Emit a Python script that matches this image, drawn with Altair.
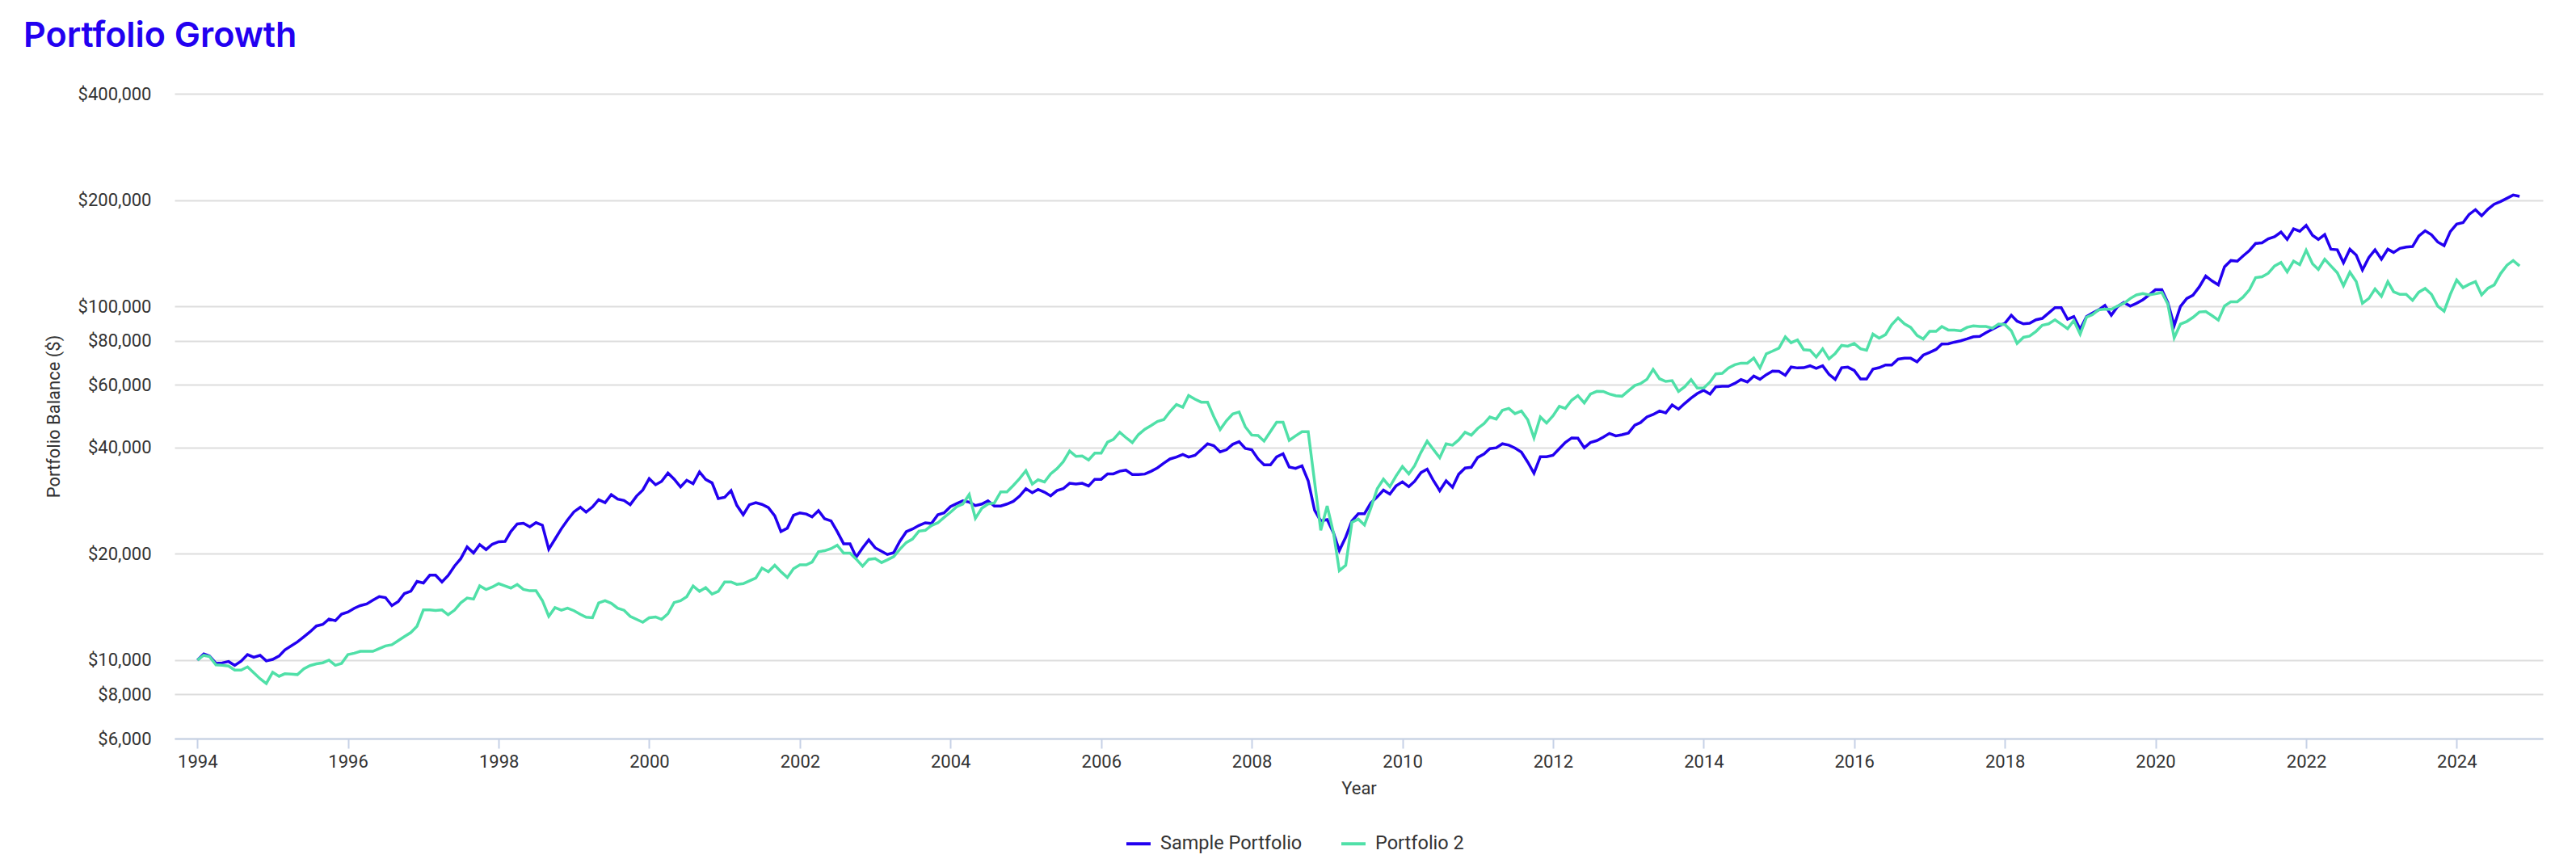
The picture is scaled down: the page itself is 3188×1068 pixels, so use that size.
import altair as alt
import pandas as pd

START_MONTH = "1994-01-01"
SERIES_NAMES = ["Sample Portfolio", "Portfolio 2"]
SERIES_COLORS = ["#2200f0", "#50e0a8"]

SAMPLE = [
    10000, 10410, 10270, 9790, 9820, 9910, 9660, 9930, 10370, 10190, 10320, 9950,
    10050, 10270, 10690, 10970, 11260, 11640, 12020, 12490, 12620, 13070, 12930, 13490,
    13680, 14020, 14260, 14420, 14770, 15130, 15030, 14260, 14650, 15430, 15670, 16700,
    16530, 17390, 17390, 16640, 17360, 18460, 19360, 20900, 20100, 21220, 20540, 21270,
    21620, 21660, 23100, 24270, 24400, 23830, 24480, 24080, 20600, 21980, 23530, 24920,
    26270, 27070, 26220, 27120, 28440, 27880, 29380, 28540, 28290, 27510, 29120, 30280,
    32620, 31330, 32030, 33820, 32500, 30890, 32270, 31550, 34070, 32440, 31720, 28640,
    28890, 30170, 27410, 25780, 27510, 27880, 27570, 27020, 25600, 23100, 23620, 25680,
    26090, 25900, 25420, 26470, 25110, 24770, 23090, 21340, 21340, 19550, 20780, 21890,
    20780, 20320, 19900, 20140, 21700, 23090, 23490, 24040, 24460, 24350, 25780, 26100,
    27180, 27740, 28230, 27990, 27360, 27640, 28230, 27280, 27280, 27640, 28130, 29090,
    30540, 29760, 30390, 29860, 29140, 30170, 30540, 31640, 31470, 31640, 31080, 32470,
    32470, 33640, 33640, 34230, 34470, 33500, 33500, 33600, 34240, 34980, 36090, 37070,
    37520, 38170, 37520, 37960, 39370, 40920, 40420, 38830, 39370, 40780, 41490, 39720,
    39370, 37070, 35660, 35660, 37580, 38350, 35150, 34850, 35450, 32160, 26540, 24750,
    24970, 22870, 20420, 22280, 24750, 25950, 25950, 27830, 28970, 30270, 29480, 31100,
    31930, 30940, 32040, 33920, 34690, 32160, 30160, 32160, 30820, 33560, 34940, 35120,
    37430, 38290, 39650, 39860, 40920, 40560, 39790, 38760, 36290, 33760, 37620, 37620,
    37960, 39650, 41270, 42520, 42430, 39860, 41270, 41780, 42720, 43780, 43090, 43390,
    43880, 46180, 46990, 48740, 49520, 50660, 50040, 52720, 51270, 53200, 55100, 56770,
    57970, 56570, 59300, 59520, 59520, 60660, 62160, 61200, 63610, 62290, 64180, 65660,
    65630, 63950, 67470, 67050, 67160, 67990, 66900, 67990, 64280, 62250, 67160, 67400,
    65980, 62380, 62380, 66560, 67160, 68350, 68350, 71000, 71420, 71420, 69780, 72900,
    74220, 75650, 78370, 78510, 79330, 80010, 81000, 82140, 82400, 84350, 86290, 88150,
    89700, 94540, 90940, 89380, 89700, 91760, 92600, 95870, 99300, 99300, 92100, 93700,
    86290, 93700, 95870, 97920, 100800, 94540, 100000, 102680, 100350, 102140, 104530, 107840,
    111570, 111570, 102680, 88400, 100000, 105440, 107690, 113760, 122050, 118250, 115170, 129590,
    134980, 134400, 139080, 144080, 150850, 151410, 155410, 157580, 162450, 154870, 165900, 163280,
    169730, 159010, 154870, 159890, 145320, 144760, 133070, 145320, 139770, 126910, 137600, 144760,
    136140, 145320, 142300, 146100, 147400, 147900, 158200, 163830, 159560, 152300, 148700, 163000,
    171200, 172800, 182200, 188000, 180600, 188700, 194800, 198200, 202500, 206800, 205000,
]

PORTFOLIO_2 = [
    10000, 10320, 10230, 9700, 9670, 9620, 9370, 9370, 9570, 9210, 8860, 8590,
    9240, 9000, 9150, 9130, 9100, 9450, 9650, 9760, 9830, 10000, 9670, 9790,
    10370, 10460, 10590, 10590, 10590, 10780, 10970, 11050, 11360, 11660, 11970, 12470,
    13870, 13870, 13820, 13870, 13440, 13850, 14520, 14980, 14880, 16220, 15840, 16100,
    16460, 16210, 15990, 16370, 15850, 15710, 15710, 14740, 13300, 14080, 13840, 14030,
    13800, 13480, 13230, 13180, 14520, 14730, 14480, 14030, 13840, 13300, 13040, 12800,
    13180, 13250, 13040, 13530, 14550, 14730, 15120, 16210, 15650, 16040, 15380, 15640,
    16640, 16640, 16380, 16450, 16760, 17070, 18210, 17790, 18560, 17790, 17130, 18140,
    18600, 18600, 18940, 20250, 20390, 20670, 21140, 20070, 20070, 19310, 18440, 19280,
    19370, 18880, 19210, 19620, 20600, 21510, 22010, 23160, 23290, 24040, 24460, 25330,
    26190, 27180, 27640, 29400, 25190, 26890, 27640, 27840, 29920, 29920, 31190, 32600,
    34350, 31470, 32360, 31910, 33640, 34820, 36390, 39030, 37690, 37790, 36830, 38490,
    38490, 41350, 42080, 44110, 42610, 41240, 43450, 44970, 46100, 47330, 47910, 50480,
    52830, 51920, 56060, 54710, 53660, 53660, 48860, 44900, 47570, 49680, 50310, 45700,
    43320, 43170, 41630, 44340, 47080, 47080, 41850, 43090, 44260, 44260, 31930, 23290,
    27300, 22870, 17910, 18540, 24530, 25060, 24110, 26940, 30550, 32490, 30940, 33170,
    35300, 33640, 35450, 38690, 41630, 39370, 37380, 40920, 40560, 41960, 44140, 43290,
    45220, 46660, 48740, 48070, 50900, 51540, 49790, 50660, 47820, 42520, 48740, 46830,
    49090, 52200, 51540, 54360, 55970, 53410, 56570, 57570, 57520, 56570, 55970, 55780,
    57770, 59820, 60560, 62290, 66440, 62500, 61420, 61730, 57520, 59300, 62160, 58790,
    58790, 61200, 64510, 64730, 67050, 68460, 69180, 69180, 71520, 67050, 73550, 74840,
    76300, 82060, 79000, 80450, 75540, 75270, 72010, 75950, 71120, 73680, 77650, 77260,
    78630, 75950, 75270, 83610, 81440, 83310, 88880, 92900, 89380, 87350, 82870, 81000,
    85090, 85090, 87830, 85850, 85850, 85410, 87350, 88150, 87830, 87830, 86900, 89200,
    88880, 85410, 78630, 81860, 82550, 85090, 88570, 89380, 91760, 89200, 86590, 91270,
    83610, 93370, 94880, 97920, 98350, 98250, 100350, 102140, 105440, 107870, 108820, 107870,
    108650, 109580, 101780, 81620, 89180, 90760, 93180, 96530, 96880, 94340, 91580, 100350,
    103220, 103220, 106370, 111570, 120770, 121400, 124210, 130310, 133320, 125330, 134470, 131400,
    144300, 132110, 127350, 136140, 130310, 124650, 114550, 125080, 117600, 102140, 105440, 112150,
    106920, 117600, 110180, 108260, 108260, 104140, 109810, 112550, 108260, 100350, 97050, 108260,
    118850, 113140, 115570, 117600, 107870, 112740, 115150, 123980, 130950, 134960, 130310,
]

Y_TICKS = [6000, 8000, 10000, 20000, 40000, 60000, 80000, 100000, 200000, 400000]
X_TICKS = [str(y) + "-01-01" for y in range(1994, 2025, 2)]
X_DOMAIN = ["1993-09-12", "2025-02-22"]

df = pd.concat([
    pd.DataFrame({"date": pd.date_range(START_MONTH, periods=len(SAMPLE), freq="MS"),
                  "value": SAMPLE, "series": SERIES_NAMES[0]}),
    pd.DataFrame({"date": pd.date_range(START_MONTH, periods=len(PORTFOLIO_2), freq="MS"),
                  "value": PORTFOLIO_2, "series": SERIES_NAMES[1]}),
])

FONT = "Roboto"

x_enc = alt.X(
    "date:T",
    scale=alt.Scale(domain=X_DOMAIN, nice=False),
    axis=alt.Axis(
        title="Year", values=X_TICKS, format="%Y", grid=False,
        domainColor="#c6d1e6", domainWidth=2, tickColor="#c6d1e6", tickWidth=2,
        tickSize=12, labelPadding=6, labelFontSize=22, labelColor="#333333",
        labelFont=FONT, titleFont=FONT, titleFontSize=22, titleFontWeight="normal",
        titleColor="#333333", titlePadding=12, labelFlush=False,
    ),
)
y_enc = alt.Y(
    "value:Q",
    scale=alt.Scale(type="log", domain=[6000, 400000], nice=False),
    axis=alt.Axis(
        title="Portfolio Balance ($)", values=Y_TICKS, format="$,.0f",
        grid=True, gridColor="#dddddd", gridWidth=2, domain=False, ticks=False,
        labelPadding=29, labelFontSize=22, labelColor="#333333", labelFont=FONT,
        titleFont=FONT, titleFontSize=22, titleFontWeight="normal",
        titleColor="#333333", titlePadding=18,
    ),
)
color_enc = alt.Color(
    "series:N",
    scale=alt.Scale(domain=SERIES_NAMES, range=SERIES_COLORS),
    legend=alt.Legend(
        title=None, orient="none", direction="horizontal", legendX=1176, legendY=911,
        symbolType="stroke", symbolStrokeWidth=4, symbolSize=900,
        labelFontSize=23.5, labelFont=FONT, labelColor="#333333", labelOffset=10,
        labelLimit=400, columnPadding=40, padding=0,
    ),
)

layers = []
for name in SERIES_NAMES:
    layers.append(
        alt.Chart(df)
        .transform_filter(alt.datum.series == name)
        .mark_line(strokeWidth=3.5, strokeJoin="miter", clip=True)
        .encode(x=x_enc, y=y_enc, color=color_enc)
    )

chart = (
    alt.layer(*layers)
    .properties(
        width=2931, height=798,
        title=alt.TitleParams(
            "Portfolio Growth", anchor="start", color="#2200f0", fontSize=43,
            font="Inter", fontWeight=600, dx=-26, offset=38,
        ),
        padding={"left": 208, "top": 108, "right": 33, "bottom": 152},
        autosize=alt.AutoSizeParams(type="none"),
    )
    .configure_view(stroke=None)
)

chart.save("out.html", embed_options={"renderer": "svg", "actions": False})
